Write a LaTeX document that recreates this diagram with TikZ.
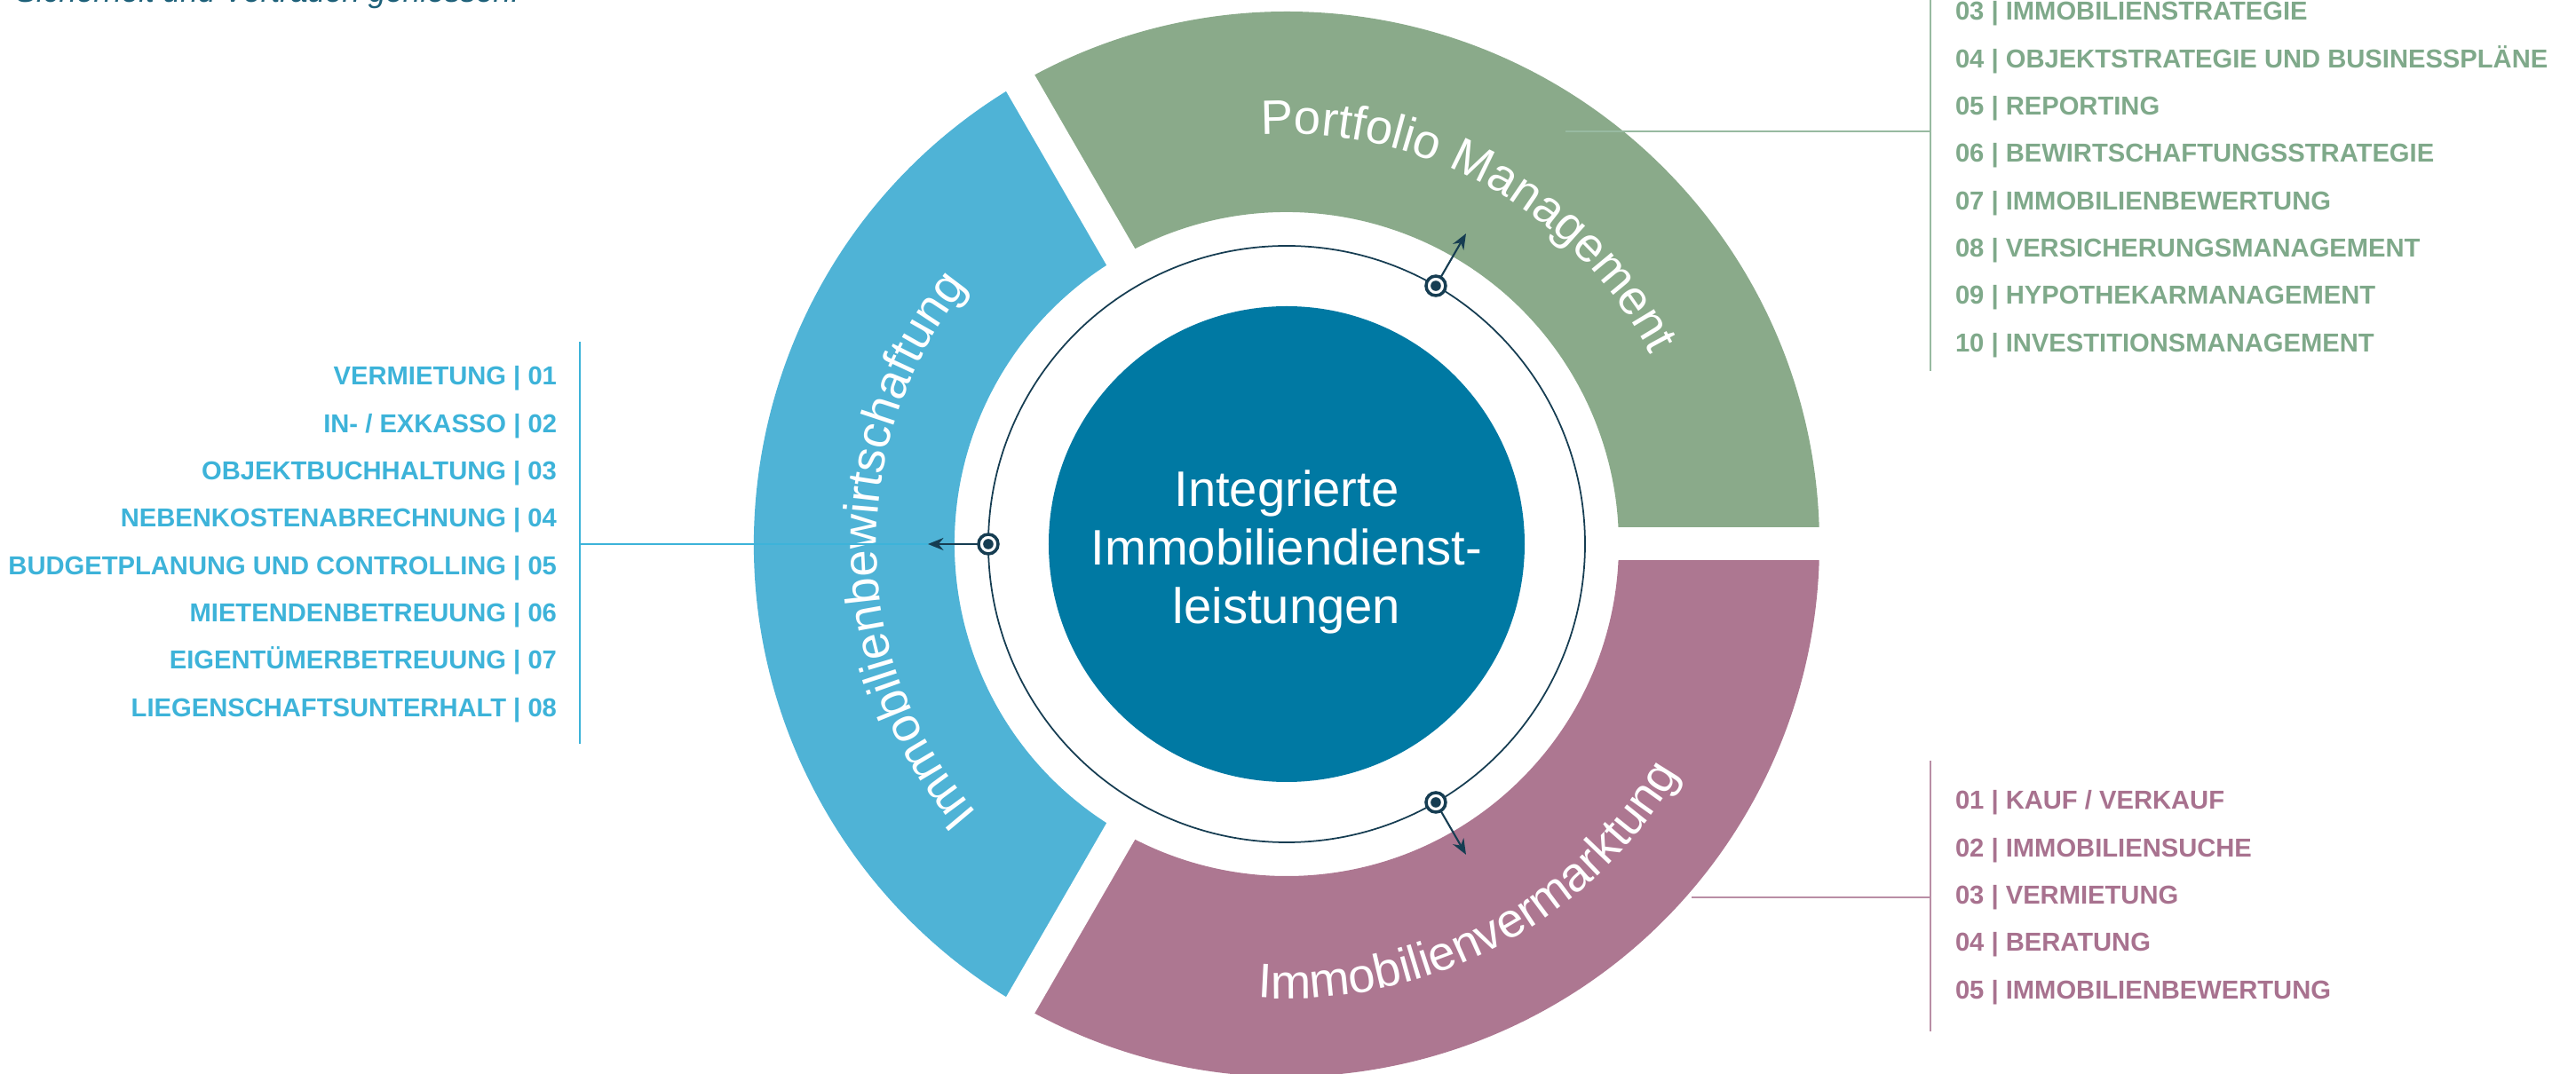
\documentclass[tikz,border=0pt]{standalone}
\usepackage{fontspec}
\setmainfont{Liberation Sans}
\usetikzlibrary{arrows.meta,decorations.text}
\definecolor{bewBlue}{HTML}{4FB3D6}
\definecolor{pmGreen}{HTML}{8AAA8A}
\definecolor{vmPink}{HTML}{AD7791}
\definecolor{coreBlue}{HTML}{0079A3}
\definecolor{ringNavy}{HTML}{163D52}
\definecolor{bewText}{HTML}{3DB3D9}
\definecolor{pmText}{HTML}{7FA98A}
\definecolor{vmText}{HTML}{A8728F}
\definecolor{introText}{HTML}{1D6079}
\newcommand{\arcfont}{\fontsize{15.5}{18}\selectfont}
\newcommand{\listfont}{\fontsize{8.3}{10}\selectfont\bfseries}

\begin{document}
\begin{tikzpicture}[inner sep=0pt,outer sep=0pt,
	bewitem/.style={anchor=base east,text=bewText,font=\listfont},
	pmitem/.style={anchor=base west,text=pmText,font=\listfont},
	vmitem/.style={anchor=base west,text=vmText,font=\listfont},
	dotmark/.style={circle,draw=ringNavy,fill=white,line width=1pt,minimum size=0.22cm,
		path picture={\fill[ringNavy] (path picture bounding box.center) circle (0.058);}},
	pointer/.style={draw=ringNavy,line width=0.6pt,-{Stealth[length=5pt,width=4pt]}},
	arctext/.style={decorate,decoration={text along path,text align=center,
		text color=white,text={|\arcfont|#1}}}]
	\useasboundingbox (-14.49,-5.97) rectangle (14.52,6.13);
	\clip (-14.49,-5.97) rectangle (14.52,6.13);
	
	% the three segments
	\fill[bewBlue] (120:6) arc[start angle=120,end angle=240,radius=6] -- (240:3.74) arc[start angle=240,end angle=120,radius=3.74] -- cycle;
	\fill[pmGreen] (0:6) arc[start angle=0,end angle=120,radius=6] -- (120:3.74) arc[start angle=120,end angle=0,radius=3.74] -- cycle;
	\fill[vmPink] (240:6) arc[start angle=240,end angle=360,radius=6] -- (0:3.74) arc[start angle=360,end angle=240,radius=3.74] -- cycle;
	\fill[white] (0,-0.185) rectangle (6.3,0.185);
	\fill[white,rotate=120] (0,-0.185) rectangle (6.3,0.185);
	\fill[white,rotate=240] (0,-0.185) rectangle (6.3,0.185);
	
	\path[arctext=Portfolio Management] (115:4.62) arc[start angle=115,end angle=6,radius=4.62];
	\path[arctext=Immobilienbewirtschaftung] (236:4.62) arc[start angle=236,end angle=126,radius=4.62];
	\path[arctext=Immobilienvermarktung] (243:5.12) arc[start angle=243,end angle=353,radius=5.12];
	
	% centre
	\node[circle,draw=ringNavy,line width=0.5pt,minimum size=6.72cm] (ring) at (0,0) {};
	\node[circle,fill=coreBlue,minimum size=5.36cm] (core) at (0,0) {};
	\node[text=white,align=center,font=\fontsize{16}{18.8}\selectfont] (coretext) at (0,-0.09) {Integrierte\\Immobiliendienst-\\leistungen};
	
	\node[dotmark] (dotB) at (ring.180) {};
	\node[dotmark] (dotG) at (ring.60) {};
	\node[dotmark] (dotV) at (ring.-60) {};
	\coordinate (tipB) at (180:4.04);
	\coordinate (tipG) at (60:4.04);
	\coordinate (tipV) at (-60:4.04);
	\draw[pointer] (dotB) -- (tipB);
	\draw[pointer] (dotG) -- (tipG);
	\draw[pointer] (dotV) -- (tipV);
	
	% leader lines and brackets
	\coordinate (brB) at (-7.96,0);
	\coordinate (brBtop) at (-7.96,2.28);
	\coordinate (brBbot) at (-7.96,-2.25);
	\draw[bewText,line width=0.5pt] (tipB) -- (brB);
	\draw[bewText,line width=0.5pt] (brBtop) -- (brBbot);
	
	\coordinate (legG) at (3.14,4.65);
	\coordinate (brG) at (7.25,4.65);
	\coordinate (brGtop) at (7.25,6.3);
	\coordinate (brGbot) at (7.25,1.95);
	\draw[pmText!80!white,line width=0.5pt] (legG) -- (brG);
	\draw[pmText!80!white,line width=0.5pt] (brGtop) -- (brGbot);
	
	\coordinate (legV) at (4.56,-3.98);
	\coordinate (brV) at (7.25,-3.98);
	\coordinate (brVtop) at (7.25,-2.44);
	\coordinate (brVbot) at (7.25,-5.49);
	\draw[vmText!80!white,line width=0.5pt] (legV) -- (brV);
	\draw[vmText!80!white,line width=0.5pt] (brVtop) -- (brVbot);
	
	% lists
	\node[bewitem] (bew1) at (-8.22,1.790) {VERMIETUNG | 01};
	\node[bewitem] (bew2) at (-8.22,1.257) {IN- / EXKASSO | 02};
	\node[bewitem] (bew3) at (-8.22,0.724) {OBJEKTBUCHHALTUNG | 03};
	\node[bewitem] (bew4) at (-8.22,0.191) {NEBENKOSTENABRECHNUNG | 04};
	\node[bewitem] (bew5) at (-8.22,-0.342) {BUDGETPLANUNG UND CONTROLLING | 05};
	\node[bewitem] (bew6) at (-8.22,-0.875) {MIETENDENBETREUUNG | 06};
	\node[bewitem] (bew7) at (-8.22,-1.408) {EIGENTÜMERBETREUUNG | 07};
	\node[bewitem] (bew8) at (-8.22,-1.941) {LIEGENSCHAFTSUNTERHALT | 08};
	
	\node[pmitem] (pm3) at (7.53,5.900) {03 | IMMOBILIENSTRATEGIE};
	\node[pmitem] (pm4) at (7.53,5.367) {04 | OBJEKTSTRATEGIE UND BUSINESSPLÄNE};
	\node[pmitem] (pm5) at (7.53,4.834) {05 | REPORTING};
	\node[pmitem] (pm6) at (7.53,4.301) {06 | BEWIRTSCHAFTUNGSSTRATEGIE};
	\node[pmitem] (pm7) at (7.53,3.768) {07 | IMMOBILIENBEWERTUNG};
	\node[pmitem] (pm8) at (7.53,3.235) {08 | VERSICHERUNGSMANAGEMENT};
	\node[pmitem] (pm9) at (7.53,2.702) {09 | HYPOTHEKARMANAGEMENT};
	\node[pmitem] (pm10) at (7.53,2.169) {10 | INVESTITIONSMANAGEMENT};
	
	\node[vmitem] (vm1) at (7.53,-2.990) {01 | KAUF / VERKAUF};
	\node[vmitem] (vm2) at (7.53,-3.523) {02 | IMMOBILIENSUCHE};
	\node[vmitem] (vm3) at (7.53,-4.056) {03 | VERMIETUNG};
	\node[vmitem] (vm4) at (7.53,-4.589) {04 | BERATUNG};
	\node[vmitem] (vm5) at (7.53,-5.122) {05 | IMMOBILIENBEWERTUNG};
	
	\node[anchor=base east,text=introText,font=\fontsize{10}{12}\selectfont\itshape] (intro) at (-8.64,6.10) {Sicherheit und Vertrauen geniessen.};
\end{tikzpicture}
\end{document}
